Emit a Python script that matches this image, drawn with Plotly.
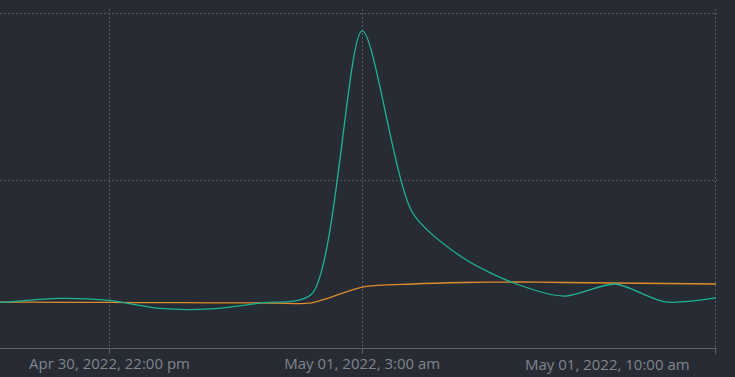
import plotly.graph_objects as go

times = ["2022-04-30 19:50", "2022-04-30 20:00", "2022-04-30 21:00", "2022-04-30 22:00",
         "2022-04-30 23:00", "2022-05-01 00:00", "2022-05-01 01:00", "2022-05-01 02:00",
         "2022-05-01 03:00", "2022-05-01 04:00", "2022-05-01 05:00", "2022-05-01 06:00",
         "2022-05-01 07:00", "2022-05-01 08:00", "2022-05-01 09:00", "2022-05-01 10:00"]
teal_vals = [27.2, 27.5, 29.6, 28.4, 23.6, 23.3, 26.9, 32.2,
             189.3, 80.6, 53.7, 38.8, 31.0, 38.2, 27.5, 29.9]
orange_vals = [27.4, 27.4, 27.3, 27.2, 27.1, 27.0, 27.0, 27.0,
               36.4, 38.2, 39.1, 39.4, 39.1, 38.8, 38.5, 38.2]
tick_vals = ["2022-04-30 22:00", "2022-05-01 03:00", "2022-05-01 10:00"]
tick_text = ["Apr 30, 2022, 22:00 pm", "May 01, 2022, 3:00 am", ""]
last_label = "May 01, 2022, 10:00 am"

BG = "#272b33"
GRID = "#555a63"
TEXT = "#80858e"
FONT = "Open Sans"

fig = go.Figure()
fig.add_trace(go.Scatter(x=times, y=orange_vals, mode="lines",
                         line=dict(color="#e08c2c", width=1.3, shape="spline", smoothing=0.75)))
fig.add_trace(go.Scatter(x=times, y=teal_vals, mode="lines",
                         line=dict(color="#1db394", width=1.3, shape="spline", smoothing=0.75)))

fig.update_layout(
    width=735, height=377,
    margin=dict(l=0, r=18, t=9, b=29),
    paper_bgcolor=BG, plot_bgcolor=BG,
    showlegend=False,
    font=dict(family=FONT, size=15, color=TEXT),
    xaxis=dict(type="date", range=["2022-04-30 19:50", "2022-05-01 10:01:12"],
               tickvals=tick_vals, ticktext=tick_text,
               showgrid=True, gridcolor=GRID, griddash="2px,2px", gridwidth=1,
               showline=True, linecolor="#5c6169", linewidth=1,
               ticks="outside", ticklen=5, tickcolor="#5c6169",
               ticklabelstandoff=-3,
               zeroline=False, tickfont=dict(family=FONT, size=15, color=TEXT)),
    yaxis=dict(range=[0, 202.4], tickvals=[100, 200], showticklabels=False,
               showgrid=True, gridcolor=GRID, griddash="2px,2px", gridwidth=1,
               zeroline=False, showline=False),
    annotations=[dict(x="2022-05-01 10:00", y=0, xref="x", yref="paper",
                      text=last_label, showarrow=False, xanchor="right",
                      yanchor="top", xshift=-24, yshift=-4,
                      font=dict(family=FONT, size=15, color=TEXT))],
)

fig.write_html("out.html", config={"displayModeBar": False},
               post_script="document.body.style.margin='0';document.body.style.overflow='hidden';")
